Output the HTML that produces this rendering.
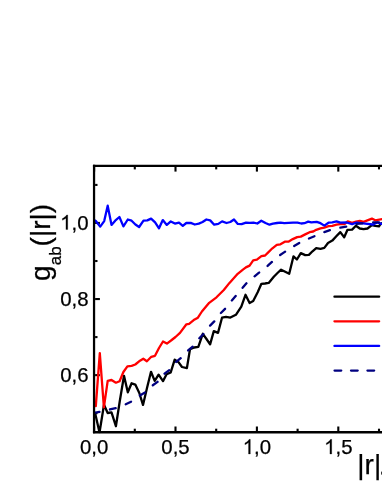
<!DOCTYPE html>
<html><head><meta charset="utf-8"><title>g_ab(|r|)</title>
<style>
html,body{margin:0;padding:0;background:#fff;}
body{width:382px;height:494px;overflow:hidden;}
svg{display:block;will-change:transform;}
text{font-family:"Liberation Sans",sans-serif;fill:#000;stroke:#000;stroke-width:0.25px;}
</style></head>
<body>
<svg width="382" height="494" viewBox="0 0 382 494">
<rect width="382" height="494" fill="#fff"/>
<defs><clipPath id="c"><rect x="94.05" y="165.9" width="300" height="267.4"/></clipPath></defs>
<g stroke="#000" stroke-width="2.1">
<line x1="94.10" y1="431.10" x2="94.10" y2="426.50"/>
<line x1="94.10" y1="167.00" x2="94.10" y2="171.60"/>
<line x1="134.80" y1="431.10" x2="134.80" y2="428.70"/>
<line x1="134.80" y1="167.00" x2="134.80" y2="169.40"/>
<line x1="175.50" y1="431.10" x2="175.50" y2="426.50"/>
<line x1="175.50" y1="167.00" x2="175.50" y2="171.60"/>
<line x1="216.20" y1="431.10" x2="216.20" y2="428.70"/>
<line x1="216.20" y1="167.00" x2="216.20" y2="169.40"/>
<line x1="256.90" y1="431.10" x2="256.90" y2="426.50"/>
<line x1="256.90" y1="167.00" x2="256.90" y2="171.60"/>
<line x1="297.60" y1="431.10" x2="297.60" y2="428.70"/>
<line x1="297.60" y1="167.00" x2="297.60" y2="169.40"/>
<line x1="338.30" y1="431.10" x2="338.30" y2="426.50"/>
<line x1="338.30" y1="167.00" x2="338.30" y2="171.60"/>
<line x1="379.00" y1="431.10" x2="379.00" y2="428.70"/>
<line x1="379.00" y1="167.00" x2="379.00" y2="169.40"/>
<line x1="95.1" y1="413.18" x2="97.50" y2="413.18"/>
<line x1="95.1" y1="375.14" x2="99.90" y2="375.14"/>
<line x1="95.1" y1="337.09" x2="97.50" y2="337.09"/>
<line x1="95.1" y1="299.05" x2="99.90" y2="299.05"/>
<line x1="95.1" y1="261.01" x2="97.50" y2="261.01"/>
<line x1="95.1" y1="222.96" x2="99.90" y2="222.96"/>
<line x1="95.1" y1="184.92" x2="97.50" y2="184.92"/>
</g>
<g clip-path="url(#c)" fill="none" stroke-width="2.3" stroke-linejoin="round" stroke-linecap="round">
<path d="M95.1,413.0 L99.5,432.5 L104.0,404.8 L107.7,413.0 L111.5,412.4 L115.9,426.2 L119.8,401.0 L124.0,375.8 L127.8,392.3 L131.6,383.3 L135.3,384.6 L139.3,393.0 L143.0,404.9 L147.0,388.0 L151.0,371.8 L154.7,380.9 L158.6,374.7 L163.0,381.1 L166.6,374.3 L170.7,372.4 L174.7,359.7 L178.3,361.9 L182.0,367.0 L186.9,368.1 L190.0,349.3 L194.2,347.5 L198.3,346.9 L202.8,333.8 L206.5,339.0 L210.1,344.4 L213.8,331.1 L218.0,332.9 L222.0,317.7 L226.0,316.9 L230.4,317.6 L235.9,314.8 L241.3,306.6 L245.5,294.8 L249.6,303.0 L253.2,301.1 L257.8,292.0 L261.4,283.8 L265.0,283.5 L268.7,282.9 L273.8,276.7 L277.5,273.0 L281.1,269.7 L285.2,271.8 L289.2,273.8 L293.5,256.3 L296.9,259.5 L300.8,253.1 L305.2,255.1 L308.9,254.9 L312.5,251.3 L316.2,248.2 L320.5,248.8 L324.3,247.9 L328.0,243.0 L332.3,240.6 L336.3,236.3 L340.3,232.1 L344.2,237.3 L347.5,229.8 L352.1,229.6 L355.9,225.8 L359.8,228.5 L363.6,229.1 L367.5,228.5 L371.9,225.2 L375.2,225.8 L379.0,226.3 L380.7,223.6 L383.0,223.0" stroke="#000"/>
<path d="M95.8,406.1 L99.8,353.2 L103.9,407.4 L107.7,380.8 L111.5,380.0 L115.9,382.7 L119.6,381.2 L123.4,372.0 L127.4,366.4 L131.6,365.8 L135.3,364.5 L140.0,360.7 L143.3,358.7 L146.9,361.2 L151.3,356.8 L155.0,355.8 L159.0,348.0 L163.0,341.5 L166.9,343.6 L171.7,340.0 L175.5,337.0 L180.0,332.9 L186.4,324.3 L189.1,323.8 L193.7,320.1 L197.9,317.7 L201.9,311.5 L209.2,302.8 L216.5,297.3 L223.8,290.0 L229.5,282.9 L237.7,273.8 L242.3,270.1 L245.9,267.4 L249.6,265.6 L253.2,260.4 L256.9,259.7 L261.4,256.1 L265.1,255.5 L268.0,252.7 L272.4,248.3 L276.8,244.9 L280.4,244.3 L284.8,241.7 L288.4,241.7 L292.8,239.1 L297.2,237.1 L300.8,236.6 L305.2,234.4 L309.6,232.2 L313.2,231.5 L316.2,229.8 L320.5,228.4 L324.3,227.7 L328.5,226.2 L332.3,225.8 L336.5,224.6 L340.3,224.1 L344.5,224.1 L347.7,221.4 L352.1,222.8 L356.0,221.6 L359.8,220.8 L363.6,221.9 L371.9,218.6 L375.2,220.3 L383.0,219.0" stroke="#f00"/>
<path d="M94.0,220.0 L95.6,220.7 L100.2,226.6 L104.2,221.1 L107.7,205.7 L111.5,224.9 L115.2,220.7 L119.4,217.0 L123.4,226.4 L127.8,219.5 L131.6,220.7 L135.4,224.5 L139.1,227.0 L143.5,220.7 L147.3,220.4 L151.1,218.6 L155.1,222.4 L159.0,228.3 L162.8,220.1 L166.8,224.9 L170.8,221.4 L174.9,223.6 L179.0,222.6 L182.8,225.8 L186.3,223.0 L190.7,222.9 L194.8,224.5 L198.8,223.6 L202.6,222.0 L206.4,219.5 L210.2,220.4 L214.2,224.7 L218.3,223.9 L222.1,221.4 L226.5,223.0 L230.3,222.0 L234.0,219.5 L237.8,223.9 L241.6,224.2 L246.0,222.6 L249.8,222.9 L253.5,222.6 L257.3,223.5 L261.3,220.7 L265.5,223.0 L269.5,224.7 L273.0,223.6 L277.0,223.0 L280.6,222.6 L284.3,223.2 L288.5,222.9 L293.1,222.6 L297.5,222.6 L301.3,223.5 L304.4,223.2 L308.2,221.6 L311.3,222.4 L316.7,221.8 L320.5,223.2 L324.3,225.6 L328.5,222.7 L332.3,222.3 L336.5,221.3 L340.3,222.7 L346.6,222.5 L352.1,224.1 L356.5,222.7 L365.3,223.6 L373.0,224.5 L377.4,222.5 L383.0,224.3" stroke="#00f"/>
<path d="M94.0,413.0 L99.5,411.8 L108.3,409.9 L115.9,408.0 L124.7,404.8 L132.2,401.1 L138.9,396.2 L146.2,391.8 L151.8,386.0 L157.9,381.6 L163.7,374.3 L169.6,369.9 L175.4,362.6 L181.2,357.8 L187.3,351.1 L192.8,346.6 L198.3,339.3 L203.7,333.8 L209.2,326.5 L214.7,321.0 L220.2,313.7 L225.6,308.3 L231.3,301.1 L235.9,295.7 L241.3,289.3 L246.8,282.9 L253.2,277.4 L258.7,272.9 L266.0,267.4 L272.0,261.9 L278.2,256.3 L284.8,251.9 L292.8,246.8 L300.1,242.5 L308.1,238.8 L316.0,235.6 L322.8,232.6 L330.4,230.0 L339.3,227.9 L346.4,226.5 L354.3,224.1 L365.3,223.0 L371.9,222.5 L379.6,222.3 L384.0,222.2" stroke="#000080" stroke-linecap="round" stroke-dasharray="5.9 10.75" stroke-dashoffset="0.3"/>
</g>
<g stroke="#000" stroke-width="2.25" fill="none" stroke-linecap="butt">
<line x1="94.05" y1="164.8" x2="94.05" y2="433.35"/>
<line x1="92.95" y1="165.9" x2="382" y2="165.9"/>
<line x1="92.95" y1="432.2" x2="382" y2="432.2" stroke-width="2.35"/>
</g>
<g font-size="20.4">
<path d="M763 0H583V1147Q518 1085 412.5 1023T223 930V1104Q374 1175 487 1276T647 1472H763V0Z" transform="translate(60.14,229.56) scale(0.00996,-0.00996)" fill="#000" stroke="#000" stroke-width="25.1"/><text x="71.49" y="229.56">,0</text>
<text x="60.14" y="305.65">0,8</text>
<text x="60.14" y="381.74">0,6</text>
<text x="79.92" y="454.00">0,0</text>
<text x="161.32" y="454.00">0,5</text>
<path d="M763 0H583V1147Q518 1085 412.5 1023T223 930V1104Q374 1175 487 1276T647 1472H763V0Z" transform="translate(242.72,454.00) scale(0.00996,-0.00996)" fill="#000" stroke="#000" stroke-width="25.1"/><text x="254.07" y="454.00">,0</text>
<path d="M763 0H583V1147Q518 1085 412.5 1023T223 930V1104Q374 1175 487 1276T647 1472H763V0Z" transform="translate(324.12,454.00) scale(0.00996,-0.00996)" fill="#000" stroke="#000" stroke-width="25.1"/><text x="335.47" y="454.00">,5</text>
</g>
<g stroke-width="2.3" stroke-linecap="round" fill="none">
<line x1="334.45" y1="296.65" x2="379.15" y2="296.65" stroke="#000"/>
<line x1="334.45" y1="321.3" x2="379.15" y2="321.3" stroke="#f00"/>
<line x1="334.45" y1="345.95" x2="379.15" y2="345.95" stroke="#00f"/>
<line x1="334.55" y1="370.6" x2="379.15" y2="370.6" stroke="#000080" stroke-dasharray="6.7 9.75"/>
</g>
<text x="357.3" y="474.4" font-size="28">|r|</text><rect x="381.1" y="471.6" width="1" height="3" fill="#222"/>
<text transform="translate(50.3,280.9) rotate(-90)" font-size="28">g<tspan font-size="17" dy="11.1">ab</tspan><tspan font-size="28" dy="-11.1">(|r|)</tspan></text>
</svg>
</body></html>
